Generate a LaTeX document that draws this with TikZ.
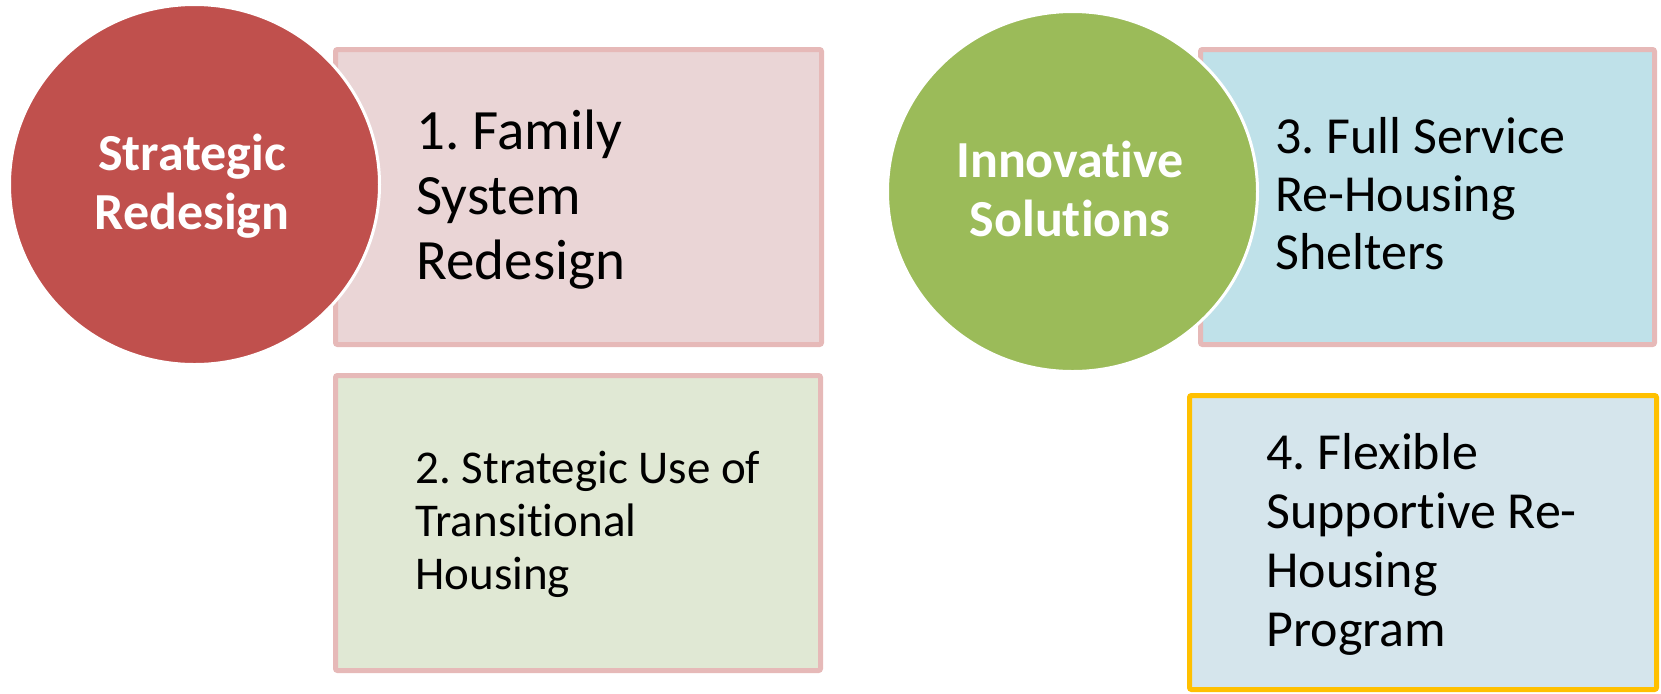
\documentclass[tikz,border=0pt]{standalone}
\usepackage{fontspec}
\setmainfont{Carlito}[RawFeature={-liga}]
\usetikzlibrary{shapes.geometric}
\definecolor{boxborder}{HTML}{E6B9B8}
\definecolor{goldborder}{HTML}{FFC000}
\definecolor{fillone}{HTML}{EAD5D6}
\definecolor{filltwo}{HTML}{E0E8D4}
\definecolor{fillthree}{HTML}{BFE1E9}
\definecolor{fillfour}{HTML}{D5E5EC}
\definecolor{circred}{HTML}{C0504D}
\definecolor{circgreen}{HTML}{9BBB59}
\frenchspacing
\begin{document}
\begin{tikzpicture}[x=0.5pt,y=-0.5pt,
  box/.style={draw=boxborder, line width=2.5pt, rounded corners=1pt, inner sep=0pt, anchor=north west},
  hub/.style={ellipse, draw=white, line width=1.5pt, inner sep=0pt, minimum width=185pt, minimum height=180pt},
  hubtext/.style={text=white, font=\frenchspacing\bfseries\fontsize{26pt}{29.5pt}\selectfont, align=flush center, text width=150pt, inner sep=0pt, anchor=base},
  itemtext/.style={text=black, align=flush left, text width=#1, inner sep=0pt, anchor=base west}
]
\useasboundingbox (0,0) rectangle (1661,693);
% boxes
\node[box, fill=fillone, minimum width=243pt, minimum height=147.5pt] (b1) at (333,47) {};
\node[box, fill=filltwo, minimum width=242.5pt, minimum height=147.5pt] (b2) at (333,373) {};
\node[box, fill=fillthree, minimum width=227pt, minimum height=147.5pt] (b3) at (1198,47) {};
\node[box, draw=goldborder, fill=fillfour, minimum width=233.5pt, minimum height=147pt] (b4) at (1187,393) {};
% circles
\node[hub, fill=circred] (c1) at (194.5,184.5) {};
\node[hub, fill=circgreen] (c2) at (1072.5,191.5) {};
% circle texts
\node[hubtext] (c1t) at (192,170) {Strategic\\Redesign};
\node[hubtext] (c2t) at (1070,177) {Innovative\\Solutions};
% box texts
\node[itemtext=190pt, font=\frenchspacing\fontsize{28.5pt}{32.5pt}\selectfont] (t1) at (416,149) {1. Family\\System\\Redesign};
\node[itemtext=190pt, font=\frenchspacing\fontsize{23.5pt}{26.5pt}\selectfont] (t2) at (415,483) {2. Strategic Use of\\Transitional\\Housing};
\node[itemtext=180pt, font=\frenchspacing\fontsize{26pt}{29pt}\selectfont] (t3) at (1275,153) {3. Full Service\\Re-Housing\\Shelters};
\node[itemtext=180pt, font=\frenchspacing\fontsize{26pt}{29.5pt}\selectfont] (t4) at (1266,469) {4. Flexible\\Supportive Re-\\Housing\\Program};
\end{tikzpicture}
\end{document}
